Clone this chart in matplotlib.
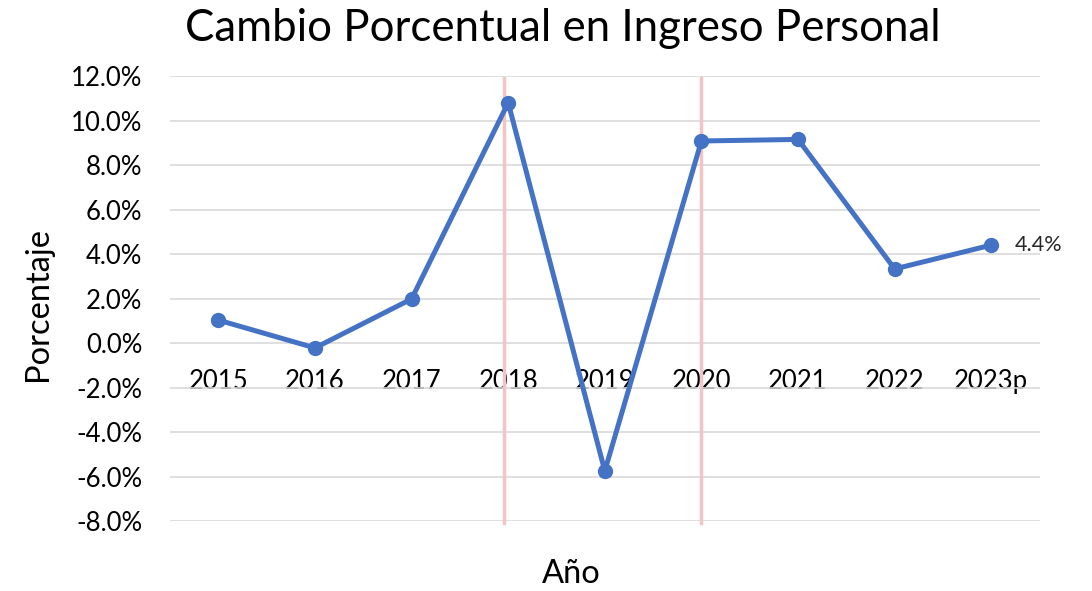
import matplotlib.pyplot as plt
from matplotlib.ticker import PercentFormatter

plt.rcParams['font.family'] = ['Lato', 'DejaVu Sans']
plt.rcParams['axes.unicode_minus'] = False

# datos
anios = ["2015", "2016", "2017", "2018", "2019", "2020", "2021", "2022", "2023p"]
cambio = [1.03, -0.22, 1.98, 10.8, -5.75, 9.08, 9.15, 3.33, 4.4]
lineas_x = [2.96, 5.0]   # lineas verticales (posicion en categorias)
y_ticks = [-8, -6, -4, -2, 0, 2, 4, 6, 8, 10, 12]

fig = plt.figure(figsize=(10.92, 5.91), dpi=100)
ax = fig.add_axes([0.1557, 0.1184, 0.7963, 0.753])

x = list(range(len(anios)))

for lx in lineas_x:
    ax.axvline(lx, ymin=-0.005, ymax=0.995, color="#f2c4c4", linewidth=2.5, zorder=1,
               clip_on=False)

ax.plot(x, cambio, color="#4472C4", linewidth=3.6, marker="o", markersize=10, zorder=3,
        solid_capstyle="round")
ax.annotate(f"{cambio[-1]:.1f}%", (x[-1], cambio[-1]), xytext=(17, 0),
            textcoords="offset points", va="center", ha="left", fontsize=15.5, color="#262626")

ax.set_xlim(-0.5, len(anios) - 0.5)
ax.set_ylim(-8, 12)
ax.set_yticks(y_ticks)
ax.yaxis.set_major_formatter(PercentFormatter(decimals=1))
ax.grid(axis="y", color="#d9d9d9", linewidth=1.2, zorder=0)
ax.set_axisbelow(True)

ax.set_xticks(x)
ax.set_xticklabels(anios)
ax.spines['bottom'].set_position(('data', 0))
for s in ax.spines.values():
    s.set_visible(False)
ax.tick_params(axis="x", length=0, pad=19, labelsize=18.5, labelcolor="#000000")
ax.tick_params(axis="y", length=0, pad=20, labelsize=18.5, labelcolor="#000000")

fig.text(0.515, 0.952, "Cambio Porcentual en Ingreso Personal", ha="center", va="center",
         fontsize=31.5, color="#000000")
fig.text(0.035, 0.486, "Porcentaje", ha="center", va="center", rotation=90, fontsize=23.5)
fig.text(0.523, 0.028, "Año", ha="center", va="center", fontsize=23.5)

fig.savefig("out.png", dpi=100)
